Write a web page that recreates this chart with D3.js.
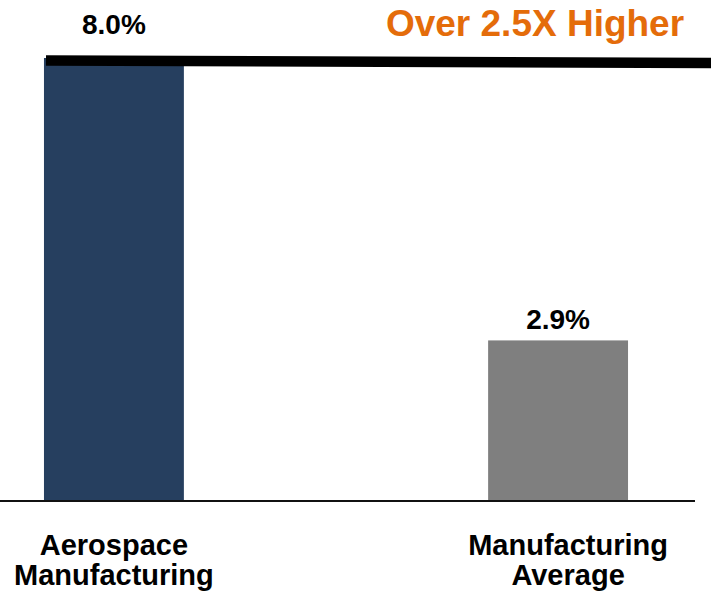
<!DOCTYPE html>
<html>
<head>
<meta charset="utf-8">
<script src="https://cdn.jsdelivr.net/npm/d3@7"></script>
<style>
  html, body { margin: 0; padding: 0; background: #fff; }
  svg text { font-family: "Liberation Sans", Arial, sans-serif; font-weight: bold; }
</style>
</head>
<body>
<script>
// chart data
const categories = ["Aerospace Manufacturing", "Manufacturing Average"];
const labelLines = [["Aerospace", "Manufacturing"], ["Manufacturing", "Average"]];
const values = [8.0, 2.9];
const valueLabels = ["8.0%", "2.9%"];
const barColors = ["#263F5F", "#7F7F7F"];
const callout = "Over 2.5X Higher";

const width = 711, height = 594;
const baseY = 501;

const svg = d3.select("body").append("svg")
  .attr("width", width)
  .attr("height", height);

const x = d3.scaleBand()
  .domain(categories)
  .range([0, 672])
  .paddingInner(0.685)
  .paddingOuter(0.099);

const y = d3.scaleLinear()
  .domain([0, 8.0])
  .range([baseY, 58]);

// bars
svg.selectAll("rect.bar")
  .data(values)
  .enter()
  .append("rect")
  .attr("class", "bar")
  .attr("x", (d, i) => x(categories[i]))
  .attr("y", d => y(d))
  .attr("width", x.bandwidth())
  .attr("height", d => baseY - y(d))
  .attr("fill", (d, i) => barColors[i]);

// baseline
svg.append("line")
  .attr("x1", 0).attr("x2", 695)
  .attr("y1", baseY).attr("y2", baseY)
  .attr("stroke", "#111")
  .attr("stroke-width", 2);

// thick comparison line from the top of the tallest bar
const topVal = d3.max(values);
svg.append("line")
  .attr("x1", x(categories[0]) + 2)
  .attr("y1", y(topVal) + 2.5)
  .attr("x2", width)
  .attr("y2", y(topVal) + 5)
  .attr("stroke", "#000")
  .attr("stroke-width", 10.5);

// value labels
svg.selectAll("text.val")
  .data(values)
  .enter()
  .append("text")
  .attr("class", "val")
  .attr("x", (d, i) => x(categories[i]) + x.bandwidth() / 2)
  .attr("y", (d, i) => y(d) - (d === topVal ? 24 : 11))
  .attr("text-anchor", "middle")
  .attr("font-size", 28)
  .attr("fill", "#000")
  .text((d, i) => valueLabels[i]);

// category labels
const catG = svg.selectAll("text.cat")
  .data(categories)
  .enter()
  .append("text")
  .attr("class", "cat")
  .attr("text-anchor", "middle")
  .attr("font-size", 29)
  .attr("fill", "#000");

catG.selectAll("tspan")
  .data((d, i) => labelLines[i].map(t => ({ t, c: d, i })))
  .enter()
  .append("tspan")
  .attr("x", d => x(d.c) + x.bandwidth() / 2 + (d.i ? 10 : 0))
  .attr("y", (d, j) => 555 + j * 30)
  .text(d => d.t);

// callout
svg.append("text")
  .attr("x", 535)
  .attr("y", 36)
  .attr("text-anchor", "middle")
  .attr("font-size", 37)
  .attr("fill", "#E46C0A")
  .text(callout);
</script>
</body>
</html>
